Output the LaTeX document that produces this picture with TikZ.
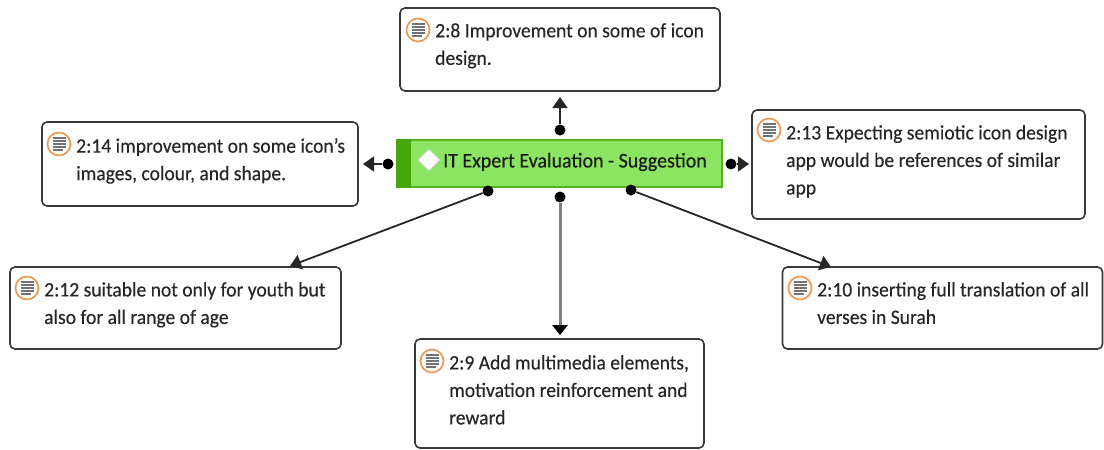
\documentclass[tikz,border=0pt]{standalone}
\usepackage{fontspec}
\setmainfont[FakeStretch=0.955,FakeBold=0.25]{Carlito}
\usetikzlibrary{arrows.meta,shapes.geometric}
\definecolor{lime}{HTML}{8CE463}
\definecolor{limeedge}{HTML}{55B520}
\definecolor{limedark}{HTML}{45A80A}
\definecolor{iconorange}{HTML}{EE9A55}
\tikzset{
 quote/.style={draw=black!78,line width=1.6pt,rounded corners=5pt,fill=white,inner sep=0pt},
 qtext/.style={anchor=north west,inner sep=0pt,font=\fontsize{20.5}{27.5}\selectfont,align=left,text=black!85},
 dotn/.style={circle,fill=black,inner sep=0pt,minimum size=11pt},
 conn/.style={draw=black!85,line width=1.8pt,-{Triangle[width=15pt,length=11pt]}},
 grayconn/.style={draw=black!50,line width=3pt,shorten >=8pt},
 qicon/.pic={
  \draw[iconorange,line width=1.7pt,fill=white] (0,0) circle (11.5pt);
  \foreach \yy/\xx in {-6/6.5,-3/6.5,0/6.5,3/6.5,6/3.5}
   \draw[black!55,line width=1.3pt] (-6.5,\yy) -- (\xx,\yy);
 }
}
\begin{document}
\begin{tikzpicture}[x=1pt,y=-1pt]
\useasboundingbox (0,0) rectangle (1104,450);
% quotation boxes
\node[quote,minimum width=320pt,minimum height=83pt] (q8) at (560,49.5) {};
\node[quote,minimum width=316pt,minimum height=84pt] (q14) at (200,164) {};
\node[quote,minimum width=333pt,minimum height=109pt] (q13) at (918.5,164.5) {};
\node[quote,minimum width=331pt,minimum height=82pt] (q12) at (175.5,308) {};
\node[quote,minimum width=320pt,minimum height=82pt] (q10) at (942.5,308) {};
\node[quote,minimum width=289pt,minimum height=109pt] (q9) at (559.5,393.5) {};
% central code node
\node[draw=limeedge,line width=1.2pt,fill=lime,minimum width=325pt,minimum height=47pt,inner sep=0pt] (main) at (559.5,163.5) {};
\fill[limedark] (main.north west) rectangle ([xshift=15pt]main.south west);
\node[diamond,draw=black!20,fill=white,line width=.6pt,minimum width=22pt,minimum height=22pt,inner sep=0pt] (dia) at (429,160) {};
\node[anchor=west,inner sep=0pt,font=\fontsize{20.9}{25}\selectfont,text=black!90] (maintxt) at (443,162) {IT Expert Evaluation - Suggestion};
% texts
\pic at (418,30) {qicon};
\node[qtext] (t8) at (435,23) {2:8 Improvement on some of icon\\design.};
\pic at (59,144) {qicon};
\node[qtext] (t14) at (76,138) {2:14 improvement on some icon’s\\images, colour, and shape.};
\pic at (769,130) {qicon};
\node[qtext] (t13) at (786,125) {2:13 Expecting semiotic icon design\\app would be references of similar\\app};
\pic at (27,288) {qicon};
\node[qtext] (t12) at (44,282) {2:12 suitable not only for youth but\\also for all range of age};
\pic at (800,288) {qicon};
\node[qtext] (t10) at (817,282) {2:10 inserting full translation of all\\verses in Surah};
\pic at (432,361) {qicon};
\node[qtext] (t9) at (449,355) {2:9 Add multimedia elements,\\motivation reinforcement and\\reward};
% connector ends
\node[dotn] (d8) at (560,130) {};
\node[dotn] (d14) at (388,164) {};
\node[dotn] (d13) at (731,164) {};
\node[dotn] (d12) at (488,191) {};
\node[dotn] (d9) at (560,197) {};
\node[dotn] (d10) at (631,190) {};
\coordinate (e8) at (560,97);
\coordinate (e14) at (363,164);
\coordinate (e13) at (749,164);
\coordinate (e12) at (290,266);
\coordinate (e9) at (560,335);
\coordinate (e10) at (831,267);
\draw[conn] (d8) -- (e8);
\draw[conn] (d14) -- (e14);
\draw[conn] (d13) -- (e13);
\draw[conn] (d12) -- (e12);
\draw[grayconn] (d9) -- (e9);
\fill[black] (e9) -- ++(-8,-10) -- ++(16,0) -- cycle;
\draw[conn] (d10) -- (e10);
\end{tikzpicture}
\end{document}
